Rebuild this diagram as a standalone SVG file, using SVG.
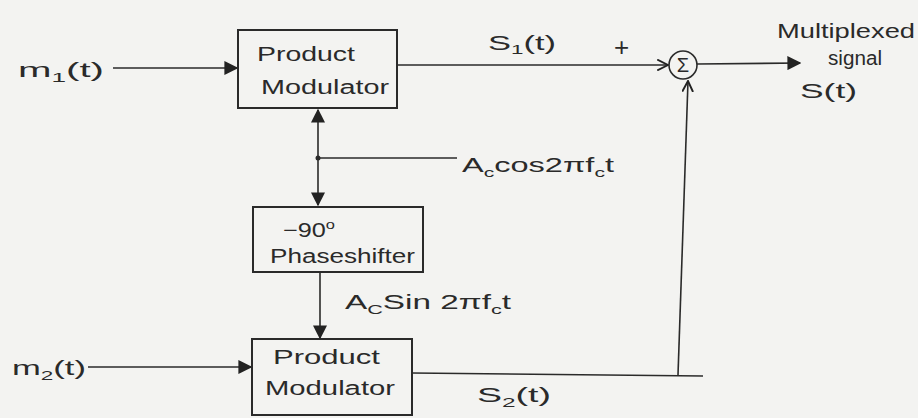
<svg xmlns="http://www.w3.org/2000/svg" width="918" height="418" viewBox="0 0 918 418">
<defs>
<marker id="ah" viewBox="0 0 10 10" refX="9" refY="5" markerWidth="14" markerHeight="14" markerUnits="userSpaceOnUse" orient="auto">
<path d="M0,0 L10,5 L0,10 z" fill="#222"/>
</marker>
<marker id="oh" viewBox="0 0 10 10" refX="9" refY="5" markerWidth="12" markerHeight="12" markerUnits="userSpaceOnUse" orient="auto">
<path d="M0,0.5 L9,5 L0,9.5" fill="none" stroke="#222" stroke-width="1.6"/>
</marker>
<style>
.box{fill:none;stroke:#2a2a2a;stroke-width:2}
.ln{fill:none;stroke:#2a2a2a;stroke-width:1.6}
.t{font-family:"Liberation Sans",Arial,sans-serif;fill:#2a2a2a;font-size:20px}
.s{font-size:13px}
.big{font-size:26px}
</style>
</defs>
<rect width="918" height="418" fill="#f3f3f1"/>

<g id="connectors">
<line class="ln" x1="113" y1="68" x2="237" y2="68" marker-end="url(#ah)" stroke-width="2"/>
<line class="ln" x1="397" y1="65" x2="668" y2="65" marker-end="url(#oh)"/>
<line class="ln" x1="697" y1="64" x2="800" y2="63" marker-end="url(#ah)" stroke-width="2.4"/>
<line class="ln" x1="318" y1="158" x2="318" y2="110" marker-end="url(#ah)"/>
<line class="ln" x1="318" y1="158" x2="318" y2="205" marker-end="url(#ah)"/>
<line class="ln" x1="318" y1="158" x2="457" y2="158"/>
<circle cx="318" cy="158" r="2.5" fill="#2a2a2a"/>
<line class="ln" x1="320" y1="272" x2="320" y2="338" marker-end="url(#ah)"/>
<line class="ln" x1="88" y1="367" x2="251" y2="367" marker-end="url(#ah)"/>
<polyline class="ln" points="412,373 703,376"/>
<line class="ln" x1="678" y1="375" x2="688" y2="81" marker-end="url(#oh)"/>
</g>

<g id="m1">
<text class="t" x="18" y="77" textLength="86" lengthAdjust="spacingAndGlyphs">m<tspan class="s" dy="5">1</tspan><tspan dy="-5">(t)</tspan></text>
</g>

<g id="mod1">
<rect class="box" x="238" y="30" width="159" height="78"/>
<text class="t" x="257" y="61" textLength="98" lengthAdjust="spacingAndGlyphs">Product</text>
<text class="t" x="261" y="94" textLength="128" lengthAdjust="spacingAndGlyphs">Modulator</text>
</g>

<g id="s1label">
<text class="t" x="488" y="50" textLength="68" lengthAdjust="spacingAndGlyphs">S<tspan class="s" dy="4">1</tspan><tspan dy="-4">(t)</tspan></text>
<text class="t big" x="614" y="56">+</text>
</g>

<g id="sum">
<circle cx="683" cy="65" r="14" fill="none" stroke="#2a2a2a" stroke-width="1.6"/>
<text class="t" x="683" y="72" text-anchor="middle">Σ</text>
</g>

<g id="output">
<text class="t" x="777" y="38" textLength="138" lengthAdjust="spacingAndGlyphs">Multiplexed</text>
<text class="t" x="828" y="65" textLength="54" lengthAdjust="spacingAndGlyphs">signal</text>
<text class="t" x="800" y="98" textLength="57" lengthAdjust="spacingAndGlyphs">S(t)</text>
</g>

<g id="carrier">
<text class="t" x="462" y="172" textLength="152" lengthAdjust="spacingAndGlyphs">A<tspan class="s" dy="5">c</tspan><tspan dy="-5">cos2πf</tspan><tspan class="s" dy="5">c</tspan><tspan dy="-5">t</tspan></text>
</g>

<g id="phaseshifter">
<rect class="box" x="253" y="207" width="170" height="65"/>
<text class="t" x="283" y="237" textLength="52" lengthAdjust="spacingAndGlyphs">−90<tspan class="s" dy="-8">o</tspan></text>
<text class="t" x="270" y="263" textLength="145" lengthAdjust="spacingAndGlyphs">Phaseshifter</text>
</g>

<g id="sincarrier">
<text class="t" x="345" y="309" textLength="166" lengthAdjust="spacingAndGlyphs">A<tspan class="s" dy="5">C</tspan><tspan dy="-5">Sin 2πf</tspan><tspan class="s" dy="5">c</tspan><tspan dy="-5">t</tspan></text>
</g>

<g id="m2">
<text class="t" x="12" y="375" textLength="74" lengthAdjust="spacingAndGlyphs">m<tspan class="s" dy="5">2</tspan><tspan dy="-5">(t)</tspan></text>
</g>

<g id="mod2">
<rect class="box" x="252" y="339" width="160" height="76"/>
<text class="t" x="273" y="364" textLength="107" lengthAdjust="spacingAndGlyphs">Product</text>
<text class="t" x="265" y="395" textLength="130" lengthAdjust="spacingAndGlyphs">Modulator</text>
</g>

<g id="s2label">
<text class="t" x="477" y="402" textLength="74" lengthAdjust="spacingAndGlyphs">S<tspan class="s" dy="5">2</tspan><tspan dy="-5">(t)</tspan></text>
</g>
</svg>
